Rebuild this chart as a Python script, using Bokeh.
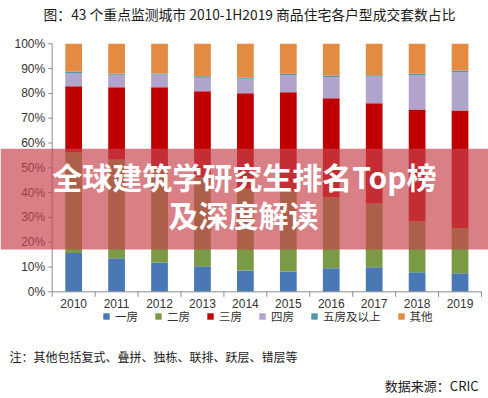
import math
from bokeh.plotting import figure
from bokeh.models import (Label, BoxAnnotation, Legend, LegendItem, ColumnDataSource, Range1d)
from bokeh.core.properties import value
from bokeh.embed import file_html
from bokeh.resources import INLINE

years = ["2010", "2011", "2012", "2013", "2014", "2015", "2016", "2017", "2018", "2019"]
series_names = ["一房", "二房", "三房", "四房", "五房及以上", "其他"]
one_room = [15.6, 13.5, 11.8, 10.3, 8.6, 8.2, 9.5, 9.9, 7.9, 7.5]
two_room = [40.7, 39.8, 38.0, 36.0, 33.0, 32.5, 28.6, 25.7, 20.6, 18.1]
three_room = [26.6, 29.2, 32.7, 34.6, 38.5, 39.8, 39.9, 40.4, 45.0, 47.5]
four_room = [5.1, 5.0, 5.1, 5.4, 5.8, 6.8, 8.5, 10.8, 13.7, 15.4]
five_plus = [0.7, 0.4, 0.4, 0.6, 0.5, 0.6, 0.7, 0.5, 0.7, 0.7]
other = [11.3, 12.1, 12.0, 13.1, 13.6, 12.1, 12.8, 12.7, 12.1, 10.8]
y_ticks = [0, 10, 20, 30, 40, 50, 60, 70, 80, 90, 100]
y_tick_labels = ["0%", "10%", "20%", "30%", "40%", "50%", "60%", "70%", "80%", "90%", "100%"]

colors = ["#4A78B4", "#7A9A46", "#C00000", "#B0A3CC", "#4F97AA", "#E38B42"]
keys = ["s1", "s2", "s3", "s4", "s5", "s6"]

n = len(years)
xs = [i + 0.5 for i in range(n)]
src = ColumnDataSource(dict(x=xs, s1=one_room, s2=two_room, s3=three_room,
                            s4=four_room, s5=five_plus, s6=other))

CJK = "Noto Sans CJK SC"
LAT = "Liberation Sans"
AX = "#8c8c8c"
TXT = "#333333"

W, H = 488, 398
# frame covers the whole canvas; ranges chosen so the plot area sits where the reference has it
p = figure(width=W, height=H, x_range=Range1d(-1.2043, n + 0.163), y_range=Range1d(-43.02, 117.46),
           output_backend="svg", toolbar_location=None,
           min_border=0, min_border_left=0, min_border_right=0, min_border_top=0, min_border_bottom=0)
p.axis.visible = False
p.xgrid.visible = False
p.ygrid.visible = False
p.outline_line_color = None
p.background_fill_color = "white"
p.border_fill_color = "white"

rs = p.vbar_stack(keys, x="x", width=0.39, color=colors, line_width=0, source=src)

# y axis
p.line(x=[0, 0], y=[y_ticks[0], y_ticks[-1]], line_color=AX, line_width=1)
p.ray(x=[0] * len(y_ticks), y=y_ticks, length=4, length_units="screen", angle=math.pi,
      line_color=AX, line_width=1)
p.text(x=[0] * len(y_ticks), y=y_ticks, text=y_tick_labels, x_offset=-7,
       text_align="right", text_baseline="middle", text_font=value(LAT),
       text_font_size="12px", text_color=TXT)

# x axis
p.line(x=[0, n], y=[0, 0], line_color=AX, line_width=1)
p.ray(x=list(range(n + 1)), y=[0] * (n + 1), length=5, length_units="screen", angle=-math.pi / 2,
      line_color=AX, line_width=1)
p.text(x=xs, y=[0] * n, text=years, y_offset=11.5,
       text_align="center", text_baseline="middle", text_font=value(LAT),
       text_font_size="12px", text_color=TXT)

legend = Legend(items=[LegendItem(label=nm, renderers=[r]) for nm, r in zip(series_names, rs)],
                orientation="horizontal", location=(102, 74),
                glyph_width=8, glyph_height=8, label_standoff=5, spacing=16,
                padding=0, margin=0, label_height=12,
                label_text_font=CJK, label_text_font_size="11.5px", label_text_color=TXT,
                border_line_alpha=0, background_fill_alpha=0)
p.add_layout(legend)

p.add_layout(Label(x=249, y=385, x_units="screen", y_units="screen",
                   text="图：43 个重点监测城市 2010-1H2019 商品住宅各户型成交套数占比",
                   text_font=CJK, text_font_size="13.8px", text_color="#1a1a1a",
                   text_align="center", text_baseline="middle"))

p.add_layout(Label(x=9, y=41.7, x_units="screen", y_units="screen",
                   text="注：其他包括复式、叠拼、独栋、联排、跃层、错层等",
                   text_font=CJK, text_font_size="12px", text_color="#1a1a1a",
                   text_align="left", text_baseline="middle"))
p.add_layout(Label(x=478, y=13.3, x_units="screen", y_units="screen",
                   text="数据来源：CRIC",
                   text_font=CJK, text_font_size="13px", text_color="#1a1a1a",
                   text_align="right", text_baseline="middle"))

banner = BoxAnnotation(top=249.7, bottom=149, top_units="screen", bottom_units="screen",
                       fill_color="#C7434D", fill_alpha=0.675, line_alpha=0, level="overlay")
p.add_layout(banner)
p.add_layout(Label(x=244, y=222.5, x_units="screen", y_units="screen",
                   text="全球建筑学研究生排名Top榜", text_font=CJK, text_font_style="bold",
                   text_font_size="30px", text_color="white",
                   text_align="center", text_baseline="middle", level="overlay"))
p.add_layout(Label(x=243, y=184.5, x_units="screen", y_units="screen",
                   text="及深度解读", text_font=CJK, text_font_style="bold",
                   text_font_size="30px", text_color="white",
                   text_align="center", text_baseline="middle", level="overlay"))

open("out.html", "w").write(file_html(p, INLINE))
